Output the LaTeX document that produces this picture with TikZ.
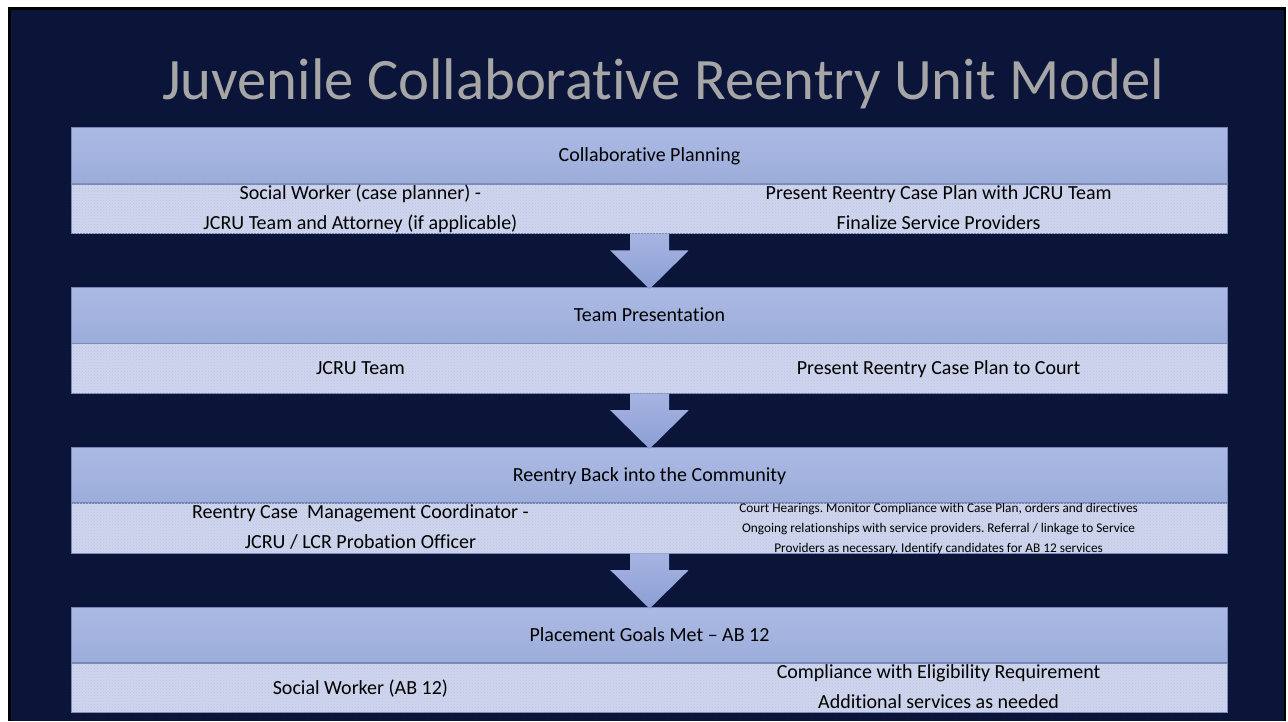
\documentclass[tikz,border=0pt]{standalone}
\usepackage{fontspec}
\setmainfont{Carlito}[Ligatures={NoCommon}]
\usetikzlibrary{calc,patterns}
\frenchspacing
\definecolor{navy}{RGB}{11,20,57}
\definecolor{titlegrey}{RGB}{166,166,166}
\definecolor{hdrtop}{RGB}{171,186,228}
\definecolor{hdrbot}{RGB}{156,173,218}
\definecolor{subfill}{RGB}{206,213,237}
\definecolor{subdot}{RGB}{188,196,225}
\definecolor{bandline}{RGB}{118,134,182}
\definecolor{arrtop}{RGB}{166,180,225}
\definecolor{arrbot}{RGB}{140,158,212}
\begin{document}
\begin{tikzpicture}[x=1pt,y=-1pt,
  hdr/.style={draw=bandline, line width=0.8pt, top color=hdrtop, bottom color=hdrbot,
    minimum width=1155.6pt, minimum height=55.4pt, inner sep=0pt,
    text height=13pt, text depth=0pt,
    font=\fontsize{20}{24}\selectfont, text=black},
  subband/.style={draw=bandline, line width=0.8pt, fill=subfill,
    postaction={pattern=crosshatch dots, pattern color=subdot},
    minimum width=1155.6pt, minimum height=49.5pt, inner sep=0pt, anchor=north},
  coltext/.style={inner sep=0pt, text=black, anchor=base,
    font=\fontsize{20}{24}\selectfont},
  smalltext/.style={inner sep=0pt, text=black, anchor=base,
    font=\fontsize{13.3}{16}\selectfont},
  arr/.style={top color=arrtop, bottom color=arrbot, draw=none},
  titletext/.style={text=titlegrey, font=\fontsize{58.7}{64}\selectfont, inner sep=0pt, anchor=base}
]
\useasboundingbox (0,0) rectangle (1288,721);
\fill[white] (0,0) rectangle (1288,721);
\fill[black] (8,7) rectangle (1286,721);
\fill[navy] (11,10) rectangle (1284,721);

\node[titletext] (title) at (663,99) {Juvenile Collaborative Reentry Unit Model};

% boxes
\node[hdr] (h1) at (649.5,155.4) {Collaborative Planning};
\node[subband] (s1) at (h1.south) {};
\node[hdr] (h2) at (649.5,315.2) {Team Presentation};
\node[subband] (s2) at (h2.south) {};
\node[hdr] (h3) at (649.5,475.0) {Reentry Back into the Community};
\node[subband] (s3) at (h3.south) {};
\node[hdr] (h4) at (649.5,634.8) {Placement Goals Met – AB 12};
\node[subband] (s4) at (h4.south) {};

% arrows
\foreach \a/\b in {s1/h2,s2/h3,s3/h4}{
  \path[arr] ($(\a.south)+(-19.5,0)$) -- ($(\a.south)+(19.5,0)$) -- ($(\a.south)+(19.5,16.6)$)
    -- ($(\a.south)+(39.3,16.6)$) -- ($(\b.north)+(0,2)$) -- ($(\a.south)+(-39.3,16.6)$)
    -- ($(\a.south)+(-19.5,16.6)$) -- cycle;
}

% column texts
\node[coltext] (l1a) at ($(s1.north west)!0.25!(s1.north east)+(0,15.7)$) {Social Worker (case planner) -};
\node[coltext] (l1b) at ($(s1.north west)!0.25!(s1.north east)+(0,45.6)$) {JCRU Team and Attorney (if applicable)};
\node[coltext] (r1a) at ($(s1.north west)!0.75!(s1.north east)+(0,15.7)$) {Present Reentry Case Plan with JCRU Team};
\node[coltext] (r1b) at ($(s1.north west)!0.75!(s1.north east)+(0,45.6)$) {Finalize Service Providers};

\node[coltext] (l2) at ($(s2.north west)!0.25!(s2.north east)+(0,31.5)$) {JCRU Team};
\node[coltext] (r2) at ($(s2.north west)!0.75!(s2.north east)+(0,31.5)$) {Present Reentry Case Plan to Court};

\node[coltext] (l3a) at ($(s3.north west)!0.25!(s3.north east)+(0,15.7)$) {Reentry Case\ \ Management Coordinator -};
\node[coltext] (l3b) at ($(s3.north west)!0.25!(s3.north east)+(0,45.6)$) {JCRU / LCR Probation Officer};
\begin{scope}
\clip (s3.north west) rectangle (s3.south east);
\node[smalltext] (r3a) at ($(s3.north west)!0.75!(s3.north east)+(0,9.5)$) {Court Hearings. Monitor Compliance with Case Plan, orders and directives};
\node[smalltext] (r3b) at ($(s3.north west)!0.75!(s3.north east)+(0,29)$) {Ongoing relationships with service providers. Referral / linkage to Service};
\node[smalltext] (r3c) at ($(s3.north west)!0.75!(s3.north east)+(0,49.5)$) {Providers as necessary. Identify candidates for AB 12 services};
\end{scope}

\node[coltext] (l4) at ($(s4.north west)!0.25!(s4.north east)+(0,31.5)$) {Social Worker (AB 12)};
\node[coltext] (r4a) at ($(s4.north west)!0.75!(s4.north east)+(0,15.7)$) {Compliance with Eligibility Requirement};
\node[coltext] (r4b) at ($(s4.north west)!0.75!(s4.north east)+(0,45.6)$) {Additional services as needed};
\end{tikzpicture}
\end{document}
